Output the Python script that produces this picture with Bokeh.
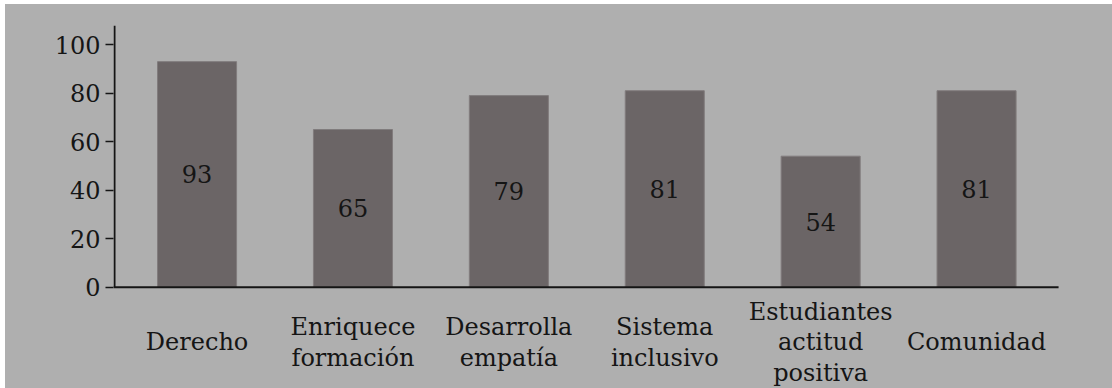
from bokeh.plotting import figure
from bokeh.models import Range1d, FixedTicker, ColumnDataSource
from bokeh.core.properties import value
from bokeh.embed import file_html
from bokeh.resources import INLINE

# Survey results per statement
categories = ["Derecho", "Enriquece\nformación", "Desarrolla\nempatía",
              "Sistema\ninclusivo", "Estudiantes\nactitud\npositiva", "Comunidad"]
values = [93, 65, 79, 81, 54, 81]
y_ticks = [0, 20, 40, 60, 80, 100]

FONT = "DejaVu Serif"
FONT_SIZE = "24px"
BG = "#afafaf"
BAR = "#6b6566"
INK = "#151515"

xs = list(range(len(categories)))
x_start, x_end = -0.536, 5.872
y_start, y_end = -41.8, 107.9
px_per_x = 999 / (x_end - x_start)

src = ColumnDataSource(dict(
    x=xs,
    value=values,
    mid=[v / 2 for v in values],
    label=[str(v) for v in values],
    cat=categories,
    cat_y=[-22.8] * len(categories),
))

p = figure(width=1107, height=384,
           x_range=Range1d(x_start, x_end), y_range=Range1d(y_start, y_end),
           x_axis_location=None,
           output_backend="svg", toolbar_location=None,
           min_border_left=108, min_border_top=21,
           min_border_right=0, min_border_bottom=0)
p.margin = (4, 0, 0, 5)

# one uniform grey panel behind both the frame and the border area
p.styles = {"background-color": BG}
p.background_fill_alpha = 0
p.border_fill_alpha = 0
p.outline_line_color = None
p.grid.visible = False

yax = p.yaxis[0]
yax.ticker = FixedTicker(ticks=y_ticks)
yax.axis_line_color = None
yax.major_tick_in = 0
yax.major_tick_out = 8
yax.major_tick_line_color = INK
yax.major_tick_line_width = 1.5
yax.minor_tick_line_color = None
yax.major_label_standoff = 5
yax.major_label_text_font = FONT
yax.major_label_text_font_size = FONT_SIZE
yax.major_label_text_color = INK

p.vbar(x="x", top="value", bottom=0, width=0.507, source=src,
       fill_color=BAR, line_color="#817c7d", line_width=1)

# axis lines
p.segment(x0=[x_start + 1.0 / px_per_x], y0=[0], x1=[x_start + 1.0 / px_per_x], y1=[y_end],
          line_color=INK, line_width=2)
p.segment(x0=[x_start], y0=[0], x1=[5.526], y1=[0], line_color=INK, line_width=2)

p.text(x="x", y="mid", text="label", source=src,
       text_font=value(FONT), text_font_size=FONT_SIZE, text_color=INK,
       text_align="center", text_baseline="middle")

p.text(x="x", y="cat_y", text="cat", source=src,
       text_font=value(FONT), text_font_size=FONT_SIZE, text_color=INK,
       text_align="center", text_baseline="middle", text_line_height=1.1)

open("out.html", "w").write(file_html(p, INLINE))
